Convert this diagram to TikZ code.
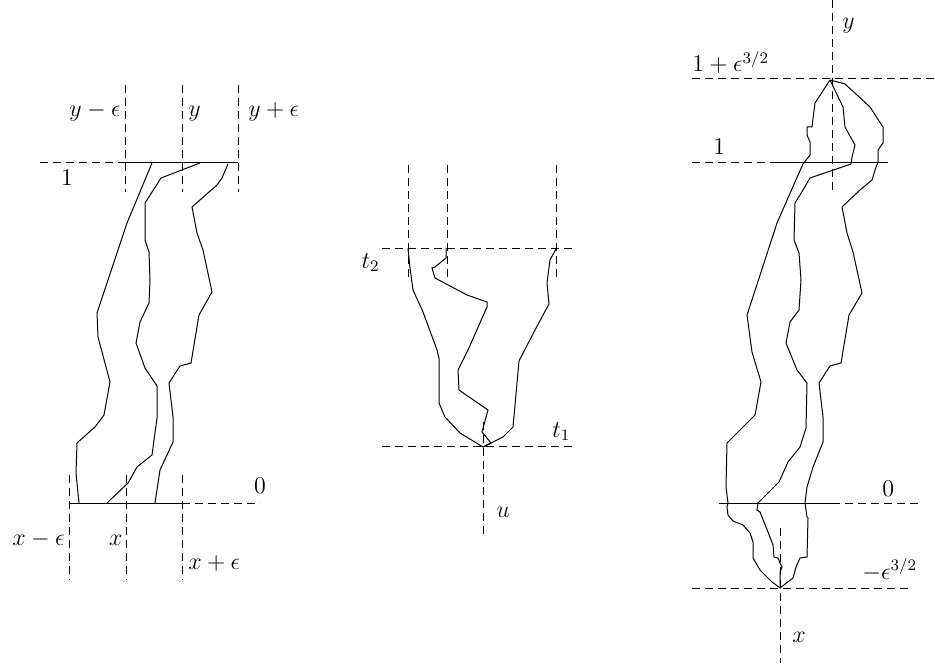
\documentclass[tikz,border=0pt]{standalone}
\usepackage{tikz}
\tikzset{
  guia/.style={dash pattern=on 4pt off 2.5pt, line width=0.5pt},
  camino/.style={line width=0.5pt},
  etq/.style={inner sep=0pt, font=\large},
}
\begin{document}
\begin{tikzpicture}[x=0.5pt, y=-0.5pt]
\useasboundingbox (0,0) rectangle (935,668);

% Panel izquierdo: lineas guia arriba (tiempo 1)
\draw[guia] (125,85) -- (125,192);
\draw[guia] (182,85) -- (182,192);
\draw[guia] (238,85) -- (238,192);
\draw[guia] (40,163) -- (125,163);
\draw[camino] (125,163) -- (238,163);
% lineas guia abajo (tiempo 0)
\draw[guia] (69,475) -- (69,580);
\draw[guia] (126,475) -- (126,580);
\draw[guia] (182,475) -- (182,580);
\draw[camino] (69,503) -- (182,503);
\draw[guia] (182,503) -- (260,503);
% caminos
\draw[camino] (152,163) -- (127,223) -- (97,313) -- (98,337) -- (110,382) -- (104,415) -- (95,427) -- (77,443) -- (76,473) -- (79,503);
\draw[camino] (200,163) -- (161,178) -- (145,203) -- (145,240) -- (149,252) -- (150,280) -- (149,303) -- (140,322) -- (136,343) -- (145,368) -- (157,386) -- (157,418) -- (152,455) -- (137,467) -- (128,483) -- (107,503);
\draw[camino] (228,164) -- (222,178) -- (217,185) -- (192,207) -- (197,233) -- (203,250) -- (212,292) -- (199,315) -- (191,363) -- (180,366) -- (169,383) -- (173,417) -- (173,442) -- (160,470) -- (155,503);
% etiquetas
\node[etq, anchor=base east] (ymeps) at (121,117) {$y-\epsilon$};
\node[etq, anchor=base west] (yizq) at (188,117) {$y$};
\node[etq, anchor=base west] (ypeps) at (248,117) {$y+\epsilon$};
\node[etq, anchor=base] (unoizq) at (67,185) {$1$};
\node[etq, anchor=base] (ceroizq) at (260,493) {$0$};
\node[etq, anchor=base east] (xmeps) at (65,545) {$x-\epsilon$};
\node[etq, anchor=base east] (xizq) at (123,545) {$x$};
\node[etq, anchor=base west] (xpeps) at (188,569) {$x+\epsilon$};

% Panel central: guias
\draw[guia] (408,165) -- (408,278);
\draw[guia] (447,165) -- (447,278);
\draw[guia] (556,165) -- (556,278);
\draw[guia] (382,248) -- (572,248);
\draw[guia] (382,446) -- (572,446);
\draw[guia] (483,422) -- (483,535);
% caminos que se juntan en u
\draw[camino] (408,248) -- (410,268) -- (413,290) -- (423,312) -- (437,350) -- (439,358) -- (439,403) -- (445,417) -- (460,433) -- (483,447);
\draw[camino] (446,248) -- (446,258) -- (435,267) -- (432,268) -- (435,278) -- (467,295) -- (487,302) -- (487,307) -- (468,350) -- (458,370) -- (459,390) -- (488,410) -- (482,432) -- (491,443) -- (483,447);
\draw[camino] (556,249) -- (550,260) -- (547,283) -- (549,304) -- (535,330) -- (519,361) -- (513,427) -- (503,437) -- (483,447);
% etiquetas
\node[etq, anchor=base east] (tdos) at (380,268) {$t_2$};
\node[etq, anchor=base west] (tuno) at (552,437) {$t_1$};
\node[etq, anchor=base west] (ulab) at (496,517) {$u$};

% Panel derecho: guias
\draw[guia] (832,0) -- (832,192);
\draw[guia] (692,79) -- (935,79);
\draw[guia] (692,163) -- (777,163);
\draw[camino] (777,163) -- (888,163);
\draw[camino] (719,503) -- (832,503);
\draw[guia] (832,503) -- (918,503);
\draw[guia] (692,588) -- (910,588);
\draw[guia] (780,528) -- (780,663);
% caminos de x a y
\draw[camino] (830,80) -- (815,103) -- (812,127) -- (807,127) -- (807,135) -- (810,142) -- (810,155) -- (803,164) -- (795,182) -- (777,223) -- (747,315) -- (752,352) -- (761,382) -- (755,415) -- (742,428) -- (727,443) -- (726,487) -- (728,503) -- (727,507) -- (728,515) -- (733,521) -- (743,525) -- (750,533) -- (753,542) -- (753,558) -- (760,570) -- (772,582) -- (780,588);
\draw[camino] (830,80) -- (843,107) -- (845,127) -- (855,145) -- (852,157) -- (851,164) -- (810,178) -- (803,190) -- (795,203) -- (794,240) -- (799,253) -- (801,280) -- (799,310) -- (790,322) -- (786,343) -- (797,370) -- (807,383) -- (806,428) -- (800,447) -- (788,462) -- (779,482) -- (758,503) -- (757,510) -- (760,512) -- (768,532) -- (773,545) -- (774,557) -- (778,558) -- (780,563) -- (782,567) -- (780,572) -- (780,588);
\draw[camino] (830,80) -- (845,84) -- (870,107) -- (883,127) -- (883,143) -- (878,150) -- (878,162) -- (875,170) -- (872,180) -- (860,190) -- (842,207) -- (847,233) -- (853,252) -- (862,293) -- (849,315) -- (841,363) -- (830,366) -- (819,383) -- (823,417) -- (823,442) -- (813,467) -- (807,487) -- (805,503) -- (807,517) -- (808,518) -- (807,557) -- (800,558) -- (796,567) -- (793,578) -- (780,588);
% etiquetas
\node[etq, anchor=base west] (yder) at (842,29) {$y$};
\node[etq, anchor=base west] (unomas) at (692,72) {$1+\epsilon^{3/2}$};
\node[etq, anchor=base west] (unoder) at (713,155) {$1$};
\node[etq, anchor=base west] (ceroder) at (882,496) {$0$};
\node[etq, anchor=base west] (menos) at (862,579) {$-\epsilon^{3/2}$};
\node[etq, anchor=base west] (xder) at (792,642) {$x$};
\end{tikzpicture}
\end{document}
